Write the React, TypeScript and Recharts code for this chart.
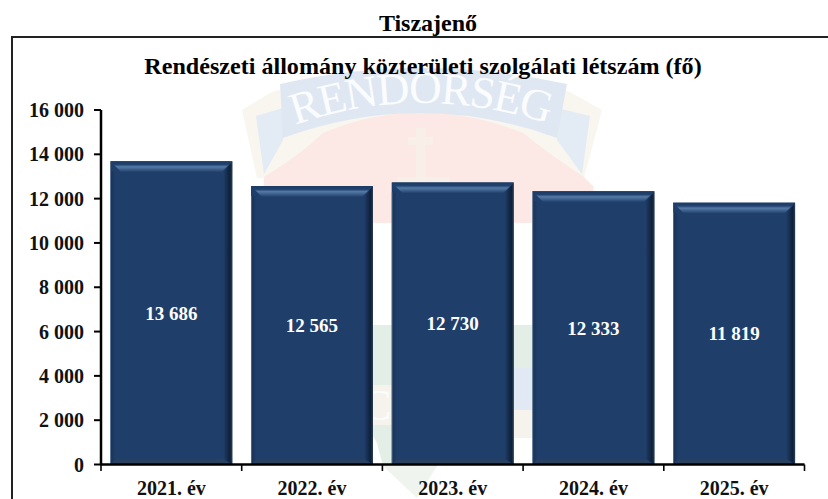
/**
 * Rendészeti állomány közterületi szolgálati létszám - Tiszajenő
 * Bevelled column chart over a faint emblem watermark
 */
import { BarChart, Bar, XAxis, YAxis, LabelList } from 'recharts'

const categories = ['2021. év', '2022. év', '2023. év', '2024. év', '2025. év']
const headcount = [13686, 12565, 12730, 12333, 11819]
const yTicks = [0, 2000, 4000, 6000, 8000, 10000, 12000, 14000, 16000]

const pageTitle = 'Tiszajenő'
const chartTitle = 'Rendészeti állomány közterületi szolgálati létszám (fő)'
const bannerText = 'RENDŐRSÉG'

const data = categories.map((name, i) => ({ name, value: headcount[i] }))

const FONT = '"Liberation Serif", "Times New Roman", serif'
const WIDTH = 828
const HEIGHT = 499
const PLOT_LEFT = 101
const PLOT_RIGHT = 804.5
const AXIS_Y = 464.5
const BAND = (PLOT_RIGHT - PLOT_LEFT) / categories.length

function formatThousands(value: number): string {
  return String(value).replace(/\B(?=(\d{3})+$)/g, ' ')
}

// Label plus the tick marks, which sit on the band edges and not the centres
function CategoryTick({ x, payload, index }: any) {
  return (
    <g>
      <line x1={x - BAND / 2} x2={x - BAND / 2} y1={AXIS_Y} y2={AXIS_Y + 6.5} stroke="#000" strokeWidth={1.6} />
      {index === categories.length - 1 && (
        <line x1={x + BAND / 2} x2={x + BAND / 2} y1={AXIS_Y} y2={AXIS_Y + 6.5} stroke="#000" strokeWidth={1.6} />
      )}
      <text x={x} y={AXIS_Y + 30.5} textAnchor="middle" fill="#111" fontFamily={FONT} fontWeight="bold" fontSize={20}>
        {payload.value}
      </text>
    </g>
  )
}

// Column with a bevel: highlight strip on top, dark right edge
function BevelBar({ x, y, width, height, index }: any) {
  const id = `bevel-${index}`
  const r = x + width
  const b = y + height
  return (
    <g style={{ filter: 'blur(0.5px)' }}>
      <defs>
        <linearGradient id={`${id}-top`} x1="0" x2="0" y1="0" y2="1">
          <stop offset="0" stopColor="#1b3a64" />
          <stop offset="0.3" stopColor="#22436f" />
          <stop offset="0.5" stopColor="#557aa6" />
          <stop offset="1" stopColor="#1f3e69" />
        </linearGradient>
        <linearGradient id={`${id}-right`} x1="0" x2="1" y1="0" y2="0">
          <stop offset="0" stopColor="#1f3e69" />
          <stop offset="0.75" stopColor="#0e1f38" />
          <stop offset="1" stopColor="#2d3f57" />
        </linearGradient>
        <linearGradient id={`${id}-left`} x1="0" x2="1" y1="0" y2="0">
          <stop offset="0" stopColor="#7088a6" />
          <stop offset="0.25" stopColor="#1a3458" />
          <stop offset="1" stopColor="#1f3e69" />
        </linearGradient>
      </defs>
      <rect x={x} y={y} width={width} height={height} fill="#1f3e69" />
      <rect x={x} y={y + 10} width={5} height={height - 10} fill={`url(#${id}-left)`} />
      <polygon
        points={`${r - 9},${y + 11} ${r},${y} ${r},${b} ${r - 9},${b - 6}`}
        fill={`url(#${id}-right)`}
      />
      <polygon
        points={`${x},${y} ${r},${y} ${r - 11},${y + 11} ${x + 11},${y + 11}`}
        fill={`url(#${id}-top)`}
      />
      <polygon points={`${x + 5},${b - 5} ${r - 8},${b - 5} ${r - 3},${b} ${x},${b}`} fill="#2b4160" />
    </g>
  )
}

// Faint police emblem behind the plot
function Watermark() {
  return (
    <svg width={WIDTH} height={HEIGHT} style={{ position: 'absolute', left: 0, top: 0 }}>
      <defs>
        <path id="banner-arc" d="M 295 125 Q 420 81 552 125" fill="none" />
      </defs>
      <path d="M 242 110 L 272 92 L 320 78 L 520 78 L 570 92 L 602 110 L 584 178 L 257 178 Z" fill="#f8f6ef" />
      <path d="M 256 116 L 283 108 L 283 140 L 264 174 Z" fill="#e3ebf4" />
      <path d="M 590 116 L 557 108 L 557 140 L 582 174 Z" fill="#e3ebf4" />
      <path d="M 264 177 Q 300 155 323 133 Q 420 92 523 133 Q 550 155 584 177 L 594 187 L 584 223 L 262 223 Z" fill="#fce8e5" />
      <path d="M 283 138 L 280 84 Q 420 52 567 84 L 557 138 Q 420 88 283 138 Z" fill="#dfe8f2" />
      <text fontFamily={FONT} fontSize={45} fill="#fbfcfe">
        <textPath href="#banner-arc" startOffset="0" textLength="258">
          {bannerText}
        </textPath>
      </text>
      <path d="M 416 128 h 9 v 9 h 8 v 8 h -8 v 32 h 25 v 6 h -53 v -6 h 19 v -32 h -8 v -8 h 8 Z" fill="#f8efe8" />
      <path d="M 340 325 L 560 325 L 545 390 L 478 440 L 437 466 L 383 466 L 377 443 L 345 390 Z" fill="#e3efe6" />
      <path d="M 383 466 L 437 466 L 417 498 Z" fill="#eff4ee" />
      <path d="M 373 385 h 19 v 40 h -19 Z" fill="#f6f3ec" />
      <path d="M 514 368 h 19 v 42 h -19 Z" fill="#e0e9f4" />
      <path d="M 514 410 h 19 v 28 h -19 Z" fill="#f6f3ec" />
      <text x={362} y={420} fontFamily={FONT} fontSize={44} fill="#fbfcfe">C</text>
    </svg>
  )
}

export default function App() {
  return (
    <div style={{ position: 'absolute', left: 0, top: 0, width: WIDTH, height: HEIGHT, background: '#fff', overflow: 'hidden' }}>
      <Watermark />
      <div style={{ position: 'absolute', left: 11, top: 36, width: 1.5, height: HEIGHT - 36, background: '#222' }} />
      <div style={{ position: 'absolute', left: 11, top: 36, width: WIDTH - 11, height: 1.5, background: '#222' }} />
      <div style={{ position: 'absolute', left: 14, width: WIDTH, top: 9, textAlign: 'center', fontFamily: FONT, fontWeight: 'bold', fontSize: 24, lineHeight: '28px', color: '#000' }}>
        {pageTitle}
      </div>
      <div style={{ position: 'absolute', left: 9, width: WIDTH, top: 52, textAlign: 'center', fontFamily: FONT, fontWeight: 'bold', fontSize: 24.1, lineHeight: '28px', color: '#000' }}>
        {chartTitle}
      </div>
      <div style={{ position: 'absolute', left: 0, top: 0 }}>
        <BarChart
          width={WIDTH}
          height={HEIGHT}
          data={data}
          barCategoryGap="6.6%"
          margin={{ top: 110, right: WIDTH - PLOT_RIGHT, bottom: 0, left: 0 }}
        >
          <XAxis
            dataKey="name"
            height={HEIGHT - AXIS_Y}
            axisLine={{ stroke: '#000', strokeWidth: 2.5 }}
            tickLine={false}
            tick={<CategoryTick />}
            interval={0}
          />
          <YAxis
            width={PLOT_LEFT}
            domain={[0, 16000]}
            ticks={yTicks}
            tickFormatter={formatThousands}
            axisLine={{ stroke: '#000', strokeWidth: 2.5 }}
            tickLine={{ stroke: '#000', strokeWidth: 2 }}
            tickSize={7}
            tickMargin={10}
            tick={{ fill: '#111', fontFamily: FONT, fontWeight: 'bold', fontSize: 20 }}
          />
          <Bar dataKey="value" isAnimationActive={false} shape={<BevelBar />}>
            <LabelList
              dataKey="value"
              position="center"
              formatter={(v: any) => formatThousands(Number(v))}
              style={{ fill: '#fff', fontFamily: FONT, fontWeight: 'bold', fontSize: 19 }}
            />
          </Bar>
        </BarChart>
      </div>
    </div>
  )
}
